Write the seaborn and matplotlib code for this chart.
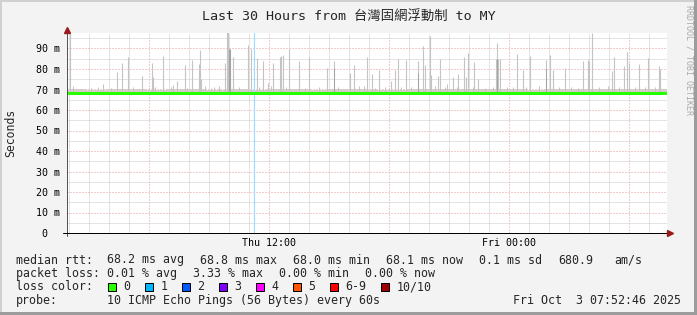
import matplotlib
matplotlib.use("Agg")
import matplotlib.pyplot as plt
import matplotlib.dates as mdates
from matplotlib.patches import Rectangle
from matplotlib.lines import Line2D
import seaborn as sns
import pandas as pd

# ---------------- data ----------------
start_time = pd.Timestamp("2025-10-02 01:52:46")
span_hours = 30

# smoke spikes (hours since start, max rtt in ms)
spike_hours = [0.19, 1.84, 2.51, 2.79, 3.09, 3.79, 4.26, 4.31, 4.84, 5.34, 5.54, 5.94,
               6.29, 6.61, 6.66, 6.71, 7.39, 7.64, 7.94, 8.04, 8.09, 8.14, 8.19, 8.31,
               9.09, 9.21, 9.53, 9.84, 10.06, 10.34, 10.69, 10.74, 10.81, 11.13, 11.63,
               12.13, 13.04, 13.38, 14.18, 14.39, 14.88, 15.01, 15.26, 15.64, 16.23,
               16.44, 16.59, 16.98, 17.59, 17.84, 17.94, 18.18, 18.23, 18.59, 18.69,
               19.04, 19.33, 19.59, 19.88, 19.98, 20.08, 20.38, 20.59, 21.49, 21.54,
               21.59, 21.68, 22.54, 22.84, 23.19, 23.96, 24.18, 24.34, 24.94, 25.84,
               26.06, 26.14, 26.29, 27.29, 27.39, 27.89, 28.01, 28.14, 28.63, 29.09,
               29.64, 29.69]
spike_max = [97.5, 72.7, 78.5, 82.9, 85.9, 76.4, 82.9, 75.9, 86.2, 72.4, 74.0, 81.8,
             84.6, 82.4, 89.1, 75.3, 71.1, 71.6, 82.9, 98.0, 98.0, 89.6, 89.6, 85.7,
             91.5, 89.6, 85.4, 84.0, 73.2, 82.9, 86.0, 86.5, 87.0, 89.9, 84.0,
             85.9, 80.5, 84.0, 78.0, 82.1, 71.9, 85.9, 77.5, 79.7, 74.0,
             79.7, 85.0, 84.2, 84.0, 91.0, 82.0, 95.9, 77.0, 76.4, 85.0,
             72.7, 76.0, 77.5, 86.0, 76.0, 87.8, 83.6, 75.1, 85.0, 92.7,
             85.0, 85.0, 87.3, 79.7, 86.2, 84.6, 87.0, 79.7, 80.5, 84.0,
             84.6, 84.0, 97.5, 78.8, 85.9, 81.3, 88.3, 82.9, 82.4, 85.4,
             81.3, 80.0]

# small smoke bumps just above the baseline (hours since start, ms)
bump_hours = [0.3, 1.2, 1.6, 2.2, 3.3, 4.4, 5.2, 6.0, 6.9, 7.2, 8.6, 9.6, 10.2, 11.0,
              11.9, 12.6, 13.6, 14.6, 15.4, 15.9, 16.7, 17.2, 18.4, 18.9, 19.5, 20.3,
              20.9, 21.3, 22.0, 22.3, 23.0, 23.6, 24.6, 25.2, 25.6, 26.6, 27.1, 27.6,
              28.4, 28.9, 29.4]
bump_max = [71.5, 70.8, 71.2, 70.9, 71.4, 71.0, 71.3, 70.9, 71.6, 70.8, 71.2, 71.0,
            71.8, 71.1, 70.9, 71.3, 71.0, 71.5, 70.9, 71.2, 71.4, 71.0, 71.7, 71.1,
            71.3, 71.0, 70.9, 71.2, 71.0, 71.4, 71.1, 71.5, 71.0, 71.3, 70.9, 71.2,
            71.6, 71.0, 71.3, 71.1, 71.4]

# darker inner smoke (hours since start, ms)
dark_hours = [8.14, 8.19, 13.38, 17.59, 23.96, 21.54]
dark_max = [89.6, 89.6, 80.5, 78.0, 80.0, 85.0]

# hourly median rtt and light smoke top (ms)
median_hours = list(range(31))
median_ms = [68.2, 68.2, 68.2, 68.2, 68.2, 68.2, 68.2, 68.2, 68.2, 68.2, 68.2,
             68.2, 68.2, 68.2, 68.2, 68.1, 68.1, 68.1, 68.1, 68.1, 68.2, 68.1,
             68.1, 68.1, 68.2, 68.2, 68.1, 68.1, 68.1, 68.1, 68.1]
smoke_top_ms = [70.2, 70.0, 70.1, 70.3, 70.0, 70.2, 70.1, 70.0, 70.4, 70.0, 70.1,
                70.2, 70.0, 70.1, 70.3, 70.0, 70.0, 70.2, 70.1, 70.3, 70.1, 70.2,
                70.4, 70.0, 70.1, 70.3, 70.1, 70.2, 70.2, 70.1, 70.1]

loss_hour = 9.37

y_ticks = [0, 10, 20, 30, 40, 50, 60, 70, 80, 90]
y_labels = ["0  ", "10 m", "20 m", "30 m", "40 m", "50 m", "60 m", "70 m", "80 m", "90 m"]

title = "Last 30 Hours from 台灣固網浮動制 to MY"
legend_median = [("median rtt:", 16), ("68.2 ms avg", 107), ("68.8 ms max", 200),
                 ("68.0 ms min", 293), ("68.1 ms now", 386), ("0.1 ms sd", 479),
                 ("680.9", 558), ("am/s", 614)]
legend_loss = [("packet loss:", 16), ("0.01 % avg", 107), ("3.33 % max", 193),
               ("0.00 % min", 279), ("0.00 % now", 365)]
loss_labels = ["0", "1", "2", "3", "4", "5", "6-9", "10/10"]
loss_colors = ["#26ff00", "#00b8ff", "#0059ff", "#7e00ff", "#ff00ff", "#ff5500",
               "#ff0000", "#a10000"]
probe_text = "10 ICMP Echo Pings (56 Bytes) every 60s"
stamp_text = "Fri Oct  3 07:52:46 2025"

# ---------------- figure ----------------
W, H, DPI = 697, 315, 100
sns.set_style("white")
MONO = ["DejaVu Sans Mono", "Noto Sans CJK TC"]
plt.rcParams["font.family"] = MONO

fig = plt.figure(figsize=(W / DPI, H / DPI), dpi=DPI, facecolor="#f3f3f3")
L, R, T, B = 66.5, 666.5, 33, 233
ax = fig.add_axes([L / W, 1 - B / H, (R - L) / W, (B - T) / H])
ax.set_facecolor("white")

to_time = lambda hs: [start_time + pd.Timedelta(hours=h) for h in hs]
t0 = start_time
t1 = start_time + pd.Timedelta(hours=span_hours)

PX = 72 / DPI  # one pixel in points

# light smoke band
ax.fill_between(to_time(median_hours), 68.6, smoke_top_ms, step="post",
                color="#d6cccc", lw=0, zorder=2)
# spikes
ax.vlines(to_time(bump_hours), 69.0, bump_max, colors="#cbc3c3", lw=PX, zorder=2.5)
ax.vlines(to_time(spike_hours), 69.0, spike_max, colors="#c4c4c4", lw=PX * 1.1, zorder=3)
ax.vlines(to_time(dark_hours), 69.0, dark_max, colors="#a4a4a4", lw=PX, zorder=3)
# loss marker
ax.axvline(to_time([loss_hour])[0], color="#9edcff", lw=PX * 1.2, zorder=3.5)

# median line
df = pd.DataFrame({"time": to_time(median_hours), "median": median_ms})
sns.lineplot(data=df, x="time", y="median", ax=ax, color="#26ff00", lw=3 * PX,
             drawstyle="steps-post", zorder=4)

ax.set_xlim(t0, t1)
ax.set_ylim(0, (B - T) / 2.05)

# grid
ax.set_yticks(y_ticks)
ax.set_yticklabels(y_labels)
ax.set_yticks([v + 5 for v in y_ticks], minor=True)
ax.xaxis.set_major_locator(mdates.HourLocator(byhour=[0, 6, 12, 18]))
ax.xaxis.set_minor_locator(mdates.HourLocator())


def xfmt(v, pos):
    d = mdates.num2date(v)
    return d.strftime("%a %H:%M") if d.hour in (0, 12) else ""


ax.xaxis.set_major_formatter(plt.FuncFormatter(xfmt))
ax.grid(which="minor", color="#c8c8c8", ls=(0, (1, 1)), lw=PX, zorder=1)
ax.grid(which="major", color="#e49a9a", ls=(0, (1, 2)), lw=PX, zorder=1)
ax.set_axisbelow(True)

ax.tick_params(which="both", length=0)
ax.tick_params(axis="y", pad=6.5 * PX, labelsize=7.2, labelcolor="#000000")
ax.tick_params(axis="x", pad=4.5 * PX, labelsize=7.2, labelcolor="#000000")
ax.set_xlabel("")
ax.set_ylabel("")
for s in ax.spines.values():
    s.set_visible(False)

# axis lines with arrows
ax.add_line(Line2D([0, 0], [-3 / 200, 1.02], transform=ax.transAxes, color="#555555",
                   lw=PX, clip_on=False, zorder=6))
ax.add_line(Line2D([-4 / 600, 1.0055], [0, 0], transform=ax.transAxes, color="#000000",
                   lw=PX, clip_on=False, zorder=6))
ax.plot([0], [1.01 + 1.5 / 200], marker="^", ms=4.2, color="#9a1a1a", mec="#9a1a1a",
        transform=ax.transAxes, clip_on=False, zorder=7)
ax.plot([1.0055], [0], marker=">", ms=4.2, color="#9a1a1a", mec="#9a1a1a",
        transform=ax.transAxes, clip_on=False, zorder=7)


def ft(x, y, s, **kw):
    fig.text(x / W, 1 - y / H, s, **kw)


ft(348.5, 19.5, title, ha="center", va="baseline", fontsize=9.6, family=MONO)
ft(10.5, 133, "Seconds", ha="center", va="center", rotation=90, fontsize=8.3)
ft(688.5, 5, "RRDTOOL / TOBI OETIKER", ha="center", va="top", rotation=270,
   fontsize=6.0, color="#aaaaaa")

LEG = 8.37
for s, x in legend_median:
    ft(x, 263.5, s, ha="left", va="baseline", fontsize=LEG)
for s, x in legend_loss:
    ft(x, 277, s, ha="left", va="baseline", fontsize=LEG)
ft(16, 290.5, "loss color:", ha="left", va="baseline", fontsize=LEG)
bx = 108.3
for lab, col in zip(loss_labels, loss_colors):
    fig.patches.append(Rectangle((bx / W, 1 - 290.5 / H), 8 / W, 8 / H,
                                 transform=fig.transFigure, facecolor=col,
                                 edgecolor="black", lw=PX))
    ft(bx + 15, 290.5, lab, ha="left", va="baseline", fontsize=LEG)
    bx += 30 + 7 * len(lab)
ft(16, 304, "probe:", ha="left", va="baseline", fontsize=LEG)
ft(107, 304, probe_text, ha="left", va="baseline", fontsize=LEG)
ft(513, 304, stamp_text, ha="left", va="baseline", fontsize=LEG)

# frame
for (x, y, w, h, c) in [(0, 0, W, 2, "#d0d0d0"), (0, 0, 2, H, "#d0d0d0"),
                        (W - 3, 0, 3, H, "#9c9c9c"), (0, H - 3, W, 3, "#9c9c9c")]:
    fig.patches.append(Rectangle((x / W, 1 - (y + h) / H), w / W, h / H,
                                 transform=fig.transFigure, facecolor=c, lw=0))

fig.savefig("out.png", dpi=DPI, facecolor=fig.get_facecolor())
